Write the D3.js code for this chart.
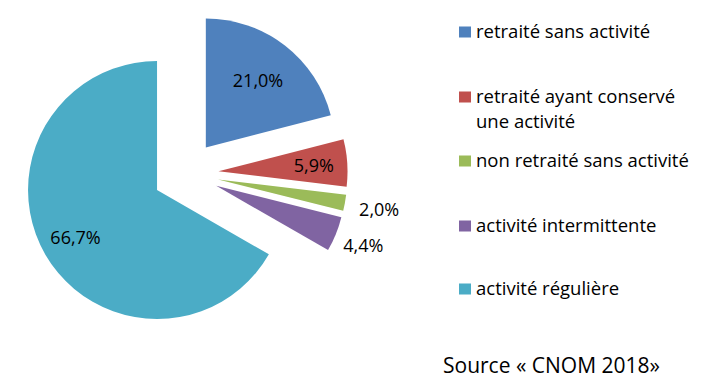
<!DOCTYPE html>
<html><head><meta charset="utf-8">
<script src="https://cdn.jsdelivr.net/npm/d3@7"></script>
<style>body{margin:0;background:#fff}svg{display:block}</style>
</head><body>
<svg id="chart" width="711" height="383"></svg>
<script>
const categories = ["retraité sans activité", "retraité ayant conservé une activité", "non retraité sans activité", "activité intermittente", "activité régulière"];
const values = [21.0, 5.9, 2.0, 4.4, 66.7];
const labels = ["21,0%", "5,9%", "2,0%", "4,4%", "66,7%"];
const colors = ["#4F81BD", "#C0504D", "#9BBB59", "#8064A2", "#4BACC6"];

const svg = d3.select("#chart");
const cx = 185.6, cy = 173.5, r = 129, explode = 33;
const labelFactor = [0.66, 0.74, 1.27, 1.23, 0.73];
const font = "'Open Sans', sans-serif";

const pie = d3.pie().sort(null).value(d => d)(values);
const arc = d3.arc().innerRadius(0).outerRadius(r);
const g = svg.append("g").attr("transform", `translate(${cx},${cy})`);

pie.forEach((p, i) => {
  const mid = (p.startAngle + p.endAngle) / 2;
  const ox = explode * Math.sin(mid), oy = -explode * Math.cos(mid);
  const sg = g.append("g").attr("transform", `translate(${ox},${oy})`);
  sg.append("path").attr("d", arc(p)).attr("fill", colors[i]);
  const lr = r * labelFactor[i];
  sg.append("text")
    .attr("x", lr * Math.sin(mid)).attr("y", -lr * Math.cos(mid) + 6.5)
    .attr("text-anchor", "middle")
    .attr("font-family", font).attr("font-size", 18).attr("fill", "#000")
    .text(labels[i]);
});

// legend
const legendY = [32, 97, 161, 226, 289];
const lg = svg.append("g");
categories.forEach((c, i) => {
  const y = legendY[i];
  lg.append("rect").attr("x", 459).attr("y", y - 5.5).attr("width", 12).attr("height", 11).attr("fill", colors[i]);
  const t = lg.append("text").attr("x", 476).attr("y", y + 5.5)
    .attr("font-family", font).attr("font-size", 18.5).attr("fill", "#000");
  if (i === 1) {
    t.append("tspan").attr("x", 476).text("retraité ayant conservé");
    t.append("tspan").attr("x", 476).attr("dy", 25).text("une activité");
  } else t.text(c);
});

svg.append("text").attr("x", 443).attr("y", 373)
  .attr("font-family", font).attr("font-size", 21).attr("fill", "#000")
  .text("Source « CNOM 2018»");
</script>
</body></html>
